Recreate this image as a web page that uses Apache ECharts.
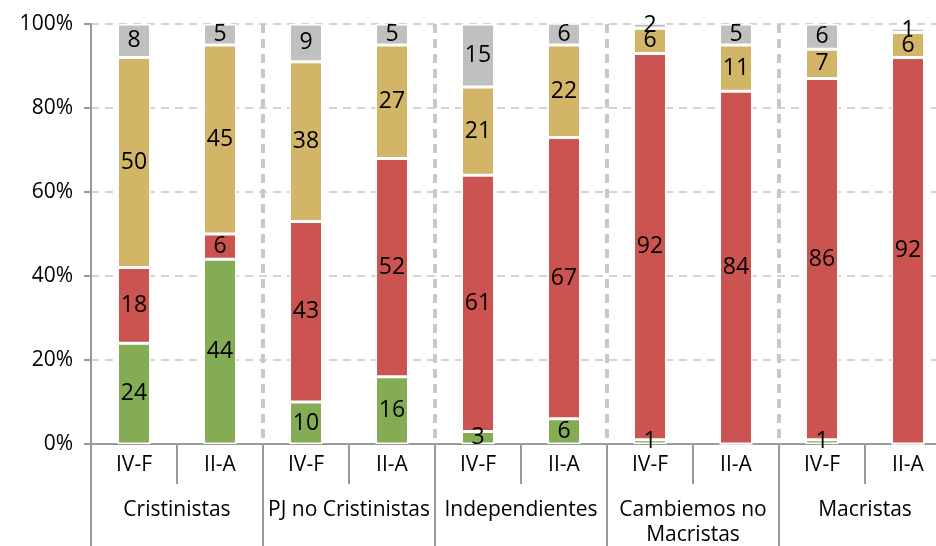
<!DOCTYPE html>
<html><head><meta charset="utf-8">
<script src="https://cdn.jsdelivr.net/npm/echarts@6/dist/echarts.min.js"></script>
<style>html,body{margin:0;padding:0;background:#fff}#c{width:936px;height:546px}</style>
</head><body><div id="c"></div>
<script>
const categories = ['IV-F','II-A','IV-F','II-A','IV-F','II-A','IV-F','II-A','IV-F','II-A'];
const groups = ['Cristinistas','PJ no Cristinistas','Independientes','Cambiemos no\nMacristas','Macristas'];
const greenVals = [24,44,10,16,3,6,1,0,1,0];
const redVals = [18,6,43,52,61,67,92,84,86,92];
const tanVals = [50,45,38,27,21,22,6,11,7,6];
const grayVals = [8,5,9,5,15,6,2,5,6,1];
const yTicks = [0,20,40,60,80,100];

const FONT = '"Open Sans", "Noto Sans", sans-serif';
const axisColor = '#9a9a9a';
function mk(name, data, color){
  return {
    name, type:'bar', stack:'s', data, barWidth:33, xAxisIndex:0,
    itemStyle:{color, borderColor:'#fff', borderWidth:1.5},
    label:{show:true, position:'inside', color:'#000', fontSize:23, fontFamily:FONT,
      formatter:p=>p.value===0?'':String(p.value)}
  };
}
const chart = echarts.init(document.getElementById('c'));
chart.setOption({
  animation:false,
  grid:{left:91, top:24, width:860, height:420, containLabel:false, outerBoundsMode:'none'},
  xAxis:[{
    type:'category', data:categories,
    axisLine:{lineStyle:{color:axisColor, width:2}},
    axisTick:{show:true, interval:0, length:40, lineStyle:{color:axisColor, width:2}},
    axisLabel:{interval:0, fontSize:21, color:'#000', fontFamily:FONT, margin:11}
  },{
    type:'category', data:groups, position:'bottom', offset:40,
    axisLine:{show:false},
    axisTick:{show:true, interval:0, length:62, lineStyle:{color:axisColor, width:2}},
    axisLabel:{interval:0, fontSize:21, color:'#000', fontFamily:FONT, margin:14, lineHeight:25},
    splitLine:{show:true, interval:0, showMinLine:false, showMaxLine:false,
      lineStyle:{type:[9,6], color:'#c8c8c8', width:4}}
  }],
  yAxis:{
    type:'value', min:0, max:100, interval:20,
    axisLine:{show:true, lineStyle:{color:axisColor, width:2}},
    axisTick:{show:true, length:7, lineStyle:{color:axisColor, width:2}},
    axisLabel:{formatter:v=>yTicks.includes(v)?v+'%':'', fontSize:21, color:'#000', fontFamily:FONT, margin:18},
    splitLine:{show:true, lineStyle:{type:[8,6], color:'#d4d4d4', width:2}}
  },
  series:[
    mk('green', greenVals, '#84ac55'),
    mk('red', redVals, '#cb5350'),
    mk('tan', tanVals, '#d2b567'),
    mk('gray', grayVals, '#c0c0c0')
  ]
});
</script></body></html>
